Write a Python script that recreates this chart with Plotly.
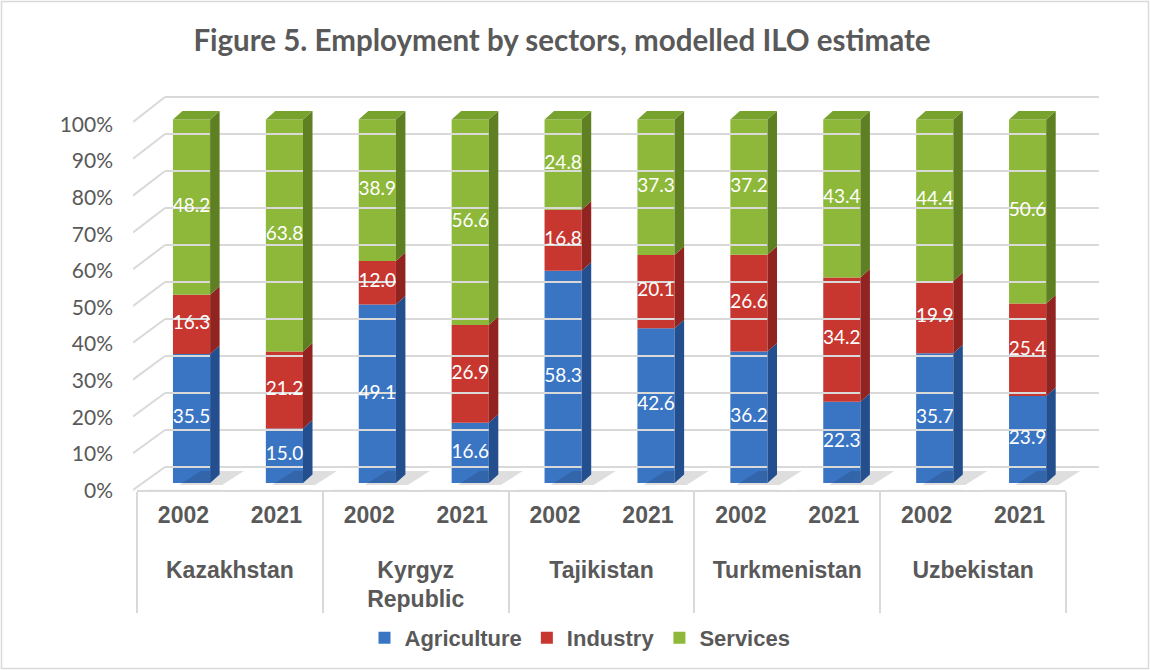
import plotly.graph_objects as go

# ---------------- data ----------------
countries = ["Kazakhstan", "Kyrgyz<br>Republic", "Tajikistan", "Turkmenistan", "Uzbekistan"]
years = ["2002", "2021"]
agriculture = [35.5, 15.0, 49.1, 16.6, 58.3, 42.6, 36.2, 22.3, 35.7, 23.9]
industry = [16.3, 21.2, 12.0, 26.9, 16.8, 20.1, 26.6, 34.2, 19.9, 25.4]
services = [48.2, 63.8, 38.9, 56.6, 24.8, 37.3, 37.2, 43.4, 44.4, 50.6]
series_names = ["Agriculture", "Industry", "Services"]
pct_ticks = [0, 10, 20, 30, 40, 50, 60, 70, 80, 90, 100]
title_text = "Figure 5. Employment by sectors, modelled ILO estimate"

# ---------------- styles ----------------
FRONT = ["#3A75C4", "#C8372F", "#8DB83A"]
SIDE = ["#234F8E", "#912320", "#5E7F22"]
TOP_GREEN = "#77A22E"
GRID = "#D9D9D9"
TXT = "#595959"
W, H = 1150, 670

# pixel geometry -> data units of the main subplot
X0PX, CATPX = 137.0, 92.9
Y0PX, UPX = 483.0, 3.635


def ux(p):
    return (p - X0PX) / CATPX - 0.5


def uy(p):
    return (Y0PX - p) / UPX


BAR_W, BAR_OFF = 0.40, -0.113
DXU, DYU = 9.5 / CATPX, 8.5 / UPX

cat_outer = ["<br>" + c for c in countries]
cat_x = [[c for c in cat_outer for _ in years], [y for _ in countries for y in years]]
n_cat = len(cat_x[0])
idx = list(range(n_cat))

raw = [agriculture, industry, services]
totals = [sum(s[i] for s in raw) for i in idx]
norm = [[s[i] / totals[i] * 100 for i in idx] for s in raw]

fig = go.Figure()

# back wall gridlines & side wall lines
gx, gy, sx, sy = [], [], [], []
for v in pct_ticks:
    yb = uy(467 - 3.7 * v)
    gx += [ux(165), ux(1099), None]
    gy += [yb, yb, None]
    sx += [ux(133), ux(165), None]
    sy += [uy(490 - 3.68 * v), yb, None]
fig.add_trace(go.Scatter(x=gx, y=gy, mode="lines", line=dict(color=GRID, width=2),
                         hoverinfo="skip", showlegend=False))
fig.add_trace(go.Scatter(x=sx, y=sy, mode="lines", line=dict(color=GRID, width=2),
                         hoverinfo="skip", showlegend=False))

# soft floor shadows next to each bar
shx, shy = [], []
for i in idx:
    xl = i + BAR_OFF
    xr = xl + BAR_W
    shx += [xl + 6 / CATPX, xr + 12 / CATPX, xr + 34 / CATPX, xl + 28 / CATPX, xl + 6 / CATPX, None]
    shy += [uy(485), uy(485), uy(471), uy(471), uy(485), None]
fig.add_trace(go.Scatter(x=shx, y=shy, mode="lines", fill="toself", fillcolor="rgba(0,0,0,0.13)",
                         line=dict(width=0, color="rgba(0,0,0,0)"), hoverinfo="skip", showlegend=False))

# bars
base = [0.0] * n_cat
label_x, label_y, label_t = [], [], []
for k, name in enumerate(series_names):
    vals = norm[k]
    fig.add_trace(go.Bar(x=idx, y=vals, base=base[:], width=BAR_W, offset=BAR_OFF,
                         marker=dict(color=FRONT[k], line=dict(width=0)), name=name,
                         hoverinfo="skip"))
    px_, py_ = [], []
    for i in idx:
        xr = i + BAR_OFF + BAR_W
        b0, b1 = base[i], base[i] + vals[i]
        px_ += [xr, xr + DXU, xr + DXU, xr, xr, None]
        py_ += [b0, b0 + DYU, b1 + DYU, b1, b0, None]
        label_x.append(i + BAR_OFF + BAR_W / 2)
        label_y.append((b0 + b1) / 2)
        label_t.append(f"{raw[k][i]:.1f}")
    fig.add_trace(go.Scatter(x=px_, y=py_, mode="lines", fill="toself", fillcolor=SIDE[k],
                             line=dict(width=0, color=SIDE[k]), hoverinfo="skip", showlegend=False))
    base = [base[i] + vals[i] for i in idx]

# top faces
tx, ty = [], []
for i in idx:
    xl = i + BAR_OFF
    xr = xl + BAR_W
    t = base[i]
    tx += [xl, xr, xr + DXU, xl + DXU, xl, None]
    ty += [t, t, t + DYU, t + DYU, t, None]
fig.add_trace(go.Scatter(x=tx, y=ty, mode="lines", fill="toself", fillcolor=TOP_GREEN,
                         line=dict(width=0, color=TOP_GREEN), hoverinfo="skip", showlegend=False))

# data labels
fig.add_trace(go.Scatter(x=label_x, y=label_y, text=label_t, mode="text",
                         textfont=dict(family="Lato", size=19, color="white"),
                         hoverinfo="skip", showlegend=False))

# invisible trace so the percentage axis is drawn
fig.add_trace(go.Scatter(x=[0], y=[0], yaxis="y5", mode="markers", marker=dict(opacity=0),
                         hoverinfo="skip", showlegend=False))

# multicategory label box
fig.add_trace(go.Bar(x=cat_x, y=[0] * n_cat, xaxis="x4", yaxis="y4", showlegend=False,
                     hoverinfo="skip", marker=dict(color="rgba(0,0,0,0)")))

fig.update_layout(
    width=W, height=H, autosize=False,
    margin=dict(l=0, r=0, t=0, b=0, pad=0, autoexpand=False),
    paper_bgcolor="white", plot_bgcolor="rgba(0,0,0,0)",
    barmode="overlay", hovermode=False,
    title=dict(text=title_text, x=562 / W, xanchor="center", y=(H - 41) / H, yanchor="middle",
               xref="paper", yref="paper",
               font=dict(family="Lato", size=29.5, color=TXT, weight="bold")),
    xaxis=dict(domain=[133 / W, 1100 / W], range=[ux(133), ux(1100)], visible=False, fixedrange=True),
    yaxis=dict(domain=[(H - 492) / H, (H - 95) / H], range=[uy(492), uy(95)], visible=False, fixedrange=True),
    yaxis5=dict(anchor="x", domain=[(H - 490.5) / H, (H - 124.5) / H], range=[0, 100],
                tickvals=pct_ticks, ticktext=[f"{v}%" for v in pct_ticks], showgrid=False,
                zeroline=False, showline=False, ticks="", ticklabelstandoff=19, automargin=False,
                tickfont=dict(family="Lato", size=21, color=TXT), fixedrange=True),
    xaxis4=dict(type="multicategory", anchor="y4", domain=[137 / W, 1066 / W], range=[-0.5, 9.5],
                showline=True, linecolor=GRID, linewidth=2, showdividers=True, automargin=False,
                dividercolor=GRID, dividerwidth=2, ticks="", showgrid=False, ticklabelstandoff=3,
                tickfont=dict(family="Liberation Sans", size=23, color=TXT, weight="bold")),
    yaxis4=dict(anchor="x4", domain=[(H - 490) / H, (H - 486) / H], range=[0, 1], visible=False),
    legend=dict(orientation="h", x=580 / W, xanchor="center", y=(H - 638) / H, yanchor="middle",
                font=dict(family="Liberation Sans", size=22, color=TXT, weight="bold"),
                bgcolor="rgba(0,0,0,0)"),
    shapes=[dict(type="rect", xref="paper", yref="paper", x0=1.5 / W, y0=1.5 / H,
                 x1=1 - 1.5 / W, y1=1 - 1.5 / H, line=dict(color=GRID, width=1.5))],
)

fig.write_html("out.html")
